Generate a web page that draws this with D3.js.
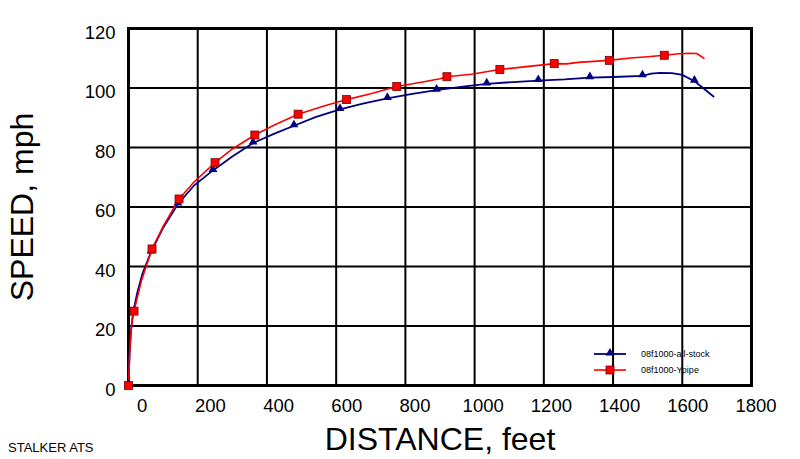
<!DOCTYPE html>
<html>
<head>
<meta charset="utf-8">
<script src="https://cdn.jsdelivr.net/npm/d3@7"></script>
<style>
  body { margin: 0; background: #fff; }
  text { font-family: "Liberation Sans", Arial, sans-serif; fill: #000; }
</style>
</head>
<body>
<div class="container"></div>
<script>
// data (distance in feet, speed in mph)
var stockDistance = [0, 3, 7, 13, 25, 40, 65, 100, 143, 190, 244, 300, 360, 420, 478, 540, 611, 680, 748, 820, 890, 960, 1035, 1110, 1184, 1260, 1333, 1400, 1485, 1510, 1536, 1570, 1600, 1635, 1660, 1692];
var stockSpeed = [0, 10, 18, 24.4, 31, 37.5, 44.9, 53, 61, 67.3, 72.3, 77, 81.5, 84.6, 87.3, 90.2, 92.8, 94.8, 96.5, 98, 99.3, 100.4, 101.4, 102, 102.5, 102.9, 103.5, 103.7, 104.1, 104.8, 105.1, 105, 104.4, 102.3, 100, 97];
var ypipeDistance = [0, 3, 7, 11, 16, 38, 68, 100, 146, 190, 250, 300, 365, 420, 490, 560, 630, 700, 775, 850, 900, 920, 990, 1073, 1150, 1230, 1265, 1300, 1389, 1450, 1500, 1548, 1590, 1620, 1642, 1655, 1664];
var ypipeSpeed = [0, 10, 18, 22, 25, 35.5, 45.9, 53.5, 62.7, 68.5, 74.9, 79.5, 84.2, 87.5, 91.2, 93.8, 96.1, 98.1, 100.5, 102, 103.1, 103.8, 104.6, 106.2, 107.2, 108.2, 108.1, 108.6, 109.3, 110.1, 110.5, 111, 111.5, 111.7, 111.6, 110.6, 109.8];

var stockMarkerDistance = [0, 13, 65, 143, 244, 360, 478, 611, 748, 890, 1035, 1184, 1333, 1485, 1635];
var stockMarkerSpeed = [0, 24.4, 44.9, 61, 72.3, 81.5, 87.3, 92.8, 96.5, 99.3, 101.4, 102.5, 103.5, 104.1, 102.3];
var ypipeMarkerDistance = [0, 16, 68, 146, 250, 365, 490, 630, 775, 920, 1073, 1230, 1389, 1548];
var ypipeMarkerSpeed = [0, 25, 45.9, 62.7, 74.9, 84.2, 91.2, 96.1, 100.5, 103.8, 106.2, 108.2, 109.3, 111];

var xTicks = [0, 200, 400, 600, 800, 1000, 1200, 1400, 1600, 1800];
var yTicks = [0, 20, 40, 60, 80, 100, 120];
var seriesNames = ["08f1000-all-stock", "08f1000-Ypipe"];

var svgWidth = 800;
var svgHeight = 459;
var margin = { top: 28.5, right: 48.5, bottom: 73.5, left: 128.5 };
var width = svgWidth - margin.left - margin.right;
var height = svgHeight - margin.top - margin.bottom;

var svg = d3.select(".container")
  .append("svg")
  .attr("width", svgWidth)
  .attr("height", svgHeight);

var chartGroup = svg.append("g")
  .attr("transform", `translate(${margin.left}, ${margin.top})`);

var xLinearScale = d3.scaleLinear().domain([0, 1800]).range([0, width]);
var yLinearScale = d3.scaleLinear().domain([0, 120]).range([height, 0]);
// the tick labels in the original sit a little right of their grid lines
var xLabelScale = d3.scaleLinear().domain([0, 1800]).range([13.2, width + 4]);

// grid
chartGroup.append("g")
  .selectAll("line")
  .data(xTicks.slice(1, -1))
  .enter()
  .append("line")
  .attr("x1", d => xLinearScale(d))
  .attr("x2", d => xLinearScale(d))
  .attr("y1", 0)
  .attr("y2", height)
  .attr("stroke", "#000")
  .attr("stroke-width", 2);

chartGroup.append("g")
  .selectAll("line")
  .data(yTicks.slice(1, -1))
  .enter()
  .append("line")
  .attr("x1", 0)
  .attr("x2", width)
  .attr("y1", d => yLinearScale(d))
  .attr("y2", d => yLinearScale(d))
  .attr("stroke", "#000")
  .attr("stroke-width", 2);

chartGroup.append("rect")
  .attr("width", width)
  .attr("height", height)
  .attr("fill", "none")
  .attr("stroke", "#000")
  .attr("stroke-width", 3);

// axes (labels only)
var bottomAxis = d3.axisBottom(xLabelScale).tickValues(xTicks).tickFormat(d3.format("d")).tickSize(0).tickPadding(13);
var leftAxis = d3.axisLeft(yLinearScale).tickValues(yTicks).tickFormat(d3.format("d")).tickSize(0).tickPadding(13);

var xAxis = chartGroup.append("g")
  .attr("transform", `translate(0, ${height})`)
  .call(bottomAxis);
var yAxis = chartGroup.append("g")
  .attr("transform", "translate(0, 4)")
  .call(leftAxis);
[xAxis, yAxis].forEach(function(ax) {
  ax.select(".domain").remove();
  ax.selectAll("text")
    .style("font-size", "18.5px")
    .style("font-family", "'Liberation Sans', Arial, sans-serif")
    .attr("fill", "#000");
});

// lines
function seriesPoints(dist, speed) {
  return dist.map((d, i) => [d, speed[i]]);
}
var line = d3.line()
  .x(d => xLinearScale(d[0]))
  .y(d => yLinearScale(d[1]));

chartGroup.append("path")
  .datum(seriesPoints(stockDistance, stockSpeed))
  .attr("d", line)
  .attr("fill", "none")
  .attr("stroke", "#000080")
  .attr("stroke-width", 1.8);

chartGroup.append("path")
  .datum(seriesPoints(ypipeDistance, ypipeSpeed))
  .attr("d", line)
  .attr("fill", "none")
  .attr("stroke", "#ff0000")
  .attr("stroke-width", 1.6);

// markers
var triangle = d3.symbol().type(d3.symbolTriangle).size(34);

chartGroup.append("g")
  .selectAll("path")
  .data(seriesPoints(stockMarkerDistance, stockMarkerSpeed))
  .enter()
  .append("path")
  .attr("d", triangle)
  .attr("transform", d => `translate(${xLinearScale(d[0])}, ${yLinearScale(d[1]) - 1})`)
  .attr("fill", "#000080");

chartGroup.append("g")
  .selectAll("rect")
  .data(seriesPoints(ypipeMarkerDistance, ypipeMarkerSpeed))
  .enter()
  .append("rect")
  .attr("x", d => xLinearScale(d[0]) - 4)
  .attr("y", d => yLinearScale(d[1]) - 4)
  .attr("width", 8)
  .attr("height", 8)
  .attr("fill", "#ff0000")
  .attr("stroke", "#7a0000")
  .attr("stroke-width", 0.8);

// legend
var legend = svg.append("g").attr("transform", "translate(594, 354)");
legend.append("line").attr("x1", 0).attr("x2", 32).attr("y1", 0).attr("y2", 0)
  .attr("stroke", "#000080").attr("stroke-width", 1.8);
legend.append("path").attr("d", triangle).attr("transform", "translate(16, -1)").attr("fill", "#000080");
legend.append("line").attr("x1", 0).attr("x2", 32).attr("y1", 16).attr("y2", 16)
  .attr("stroke", "#ff0000").attr("stroke-width", 1.6);
legend.append("rect").attr("x", 12).attr("y", 12).attr("width", 8).attr("height", 8)
  .attr("fill", "#ff0000").attr("stroke", "#7a0000").attr("stroke-width", 0.8);
legend.selectAll("text.name")
  .data(seriesNames)
  .enter()
  .append("text")
  .attr("class", "name")
  .attr("x", 47)
  .attr("y", (d, i) => i * 16 + 3)
  .style("font-size", "9px")
  .text(d => d);

// titles
svg.append("text")
  .attr("x", 440)
  .attr("y", 450)
  .attr("text-anchor", "middle")
  .style("font-size", "32px")
  .text("DISTANCE, feet");

svg.append("text")
  .attr("transform", "translate(33, 207) rotate(-90)")
  .attr("text-anchor", "middle")
  .style("font-size", "32px")
  .text("SPEED, mph");

svg.append("text")
  .attr("x", 8)
  .attr("y", 452)
  .style("font-size", "13px")
  .text("STALKER ATS");
</script>
</body>
</html>
